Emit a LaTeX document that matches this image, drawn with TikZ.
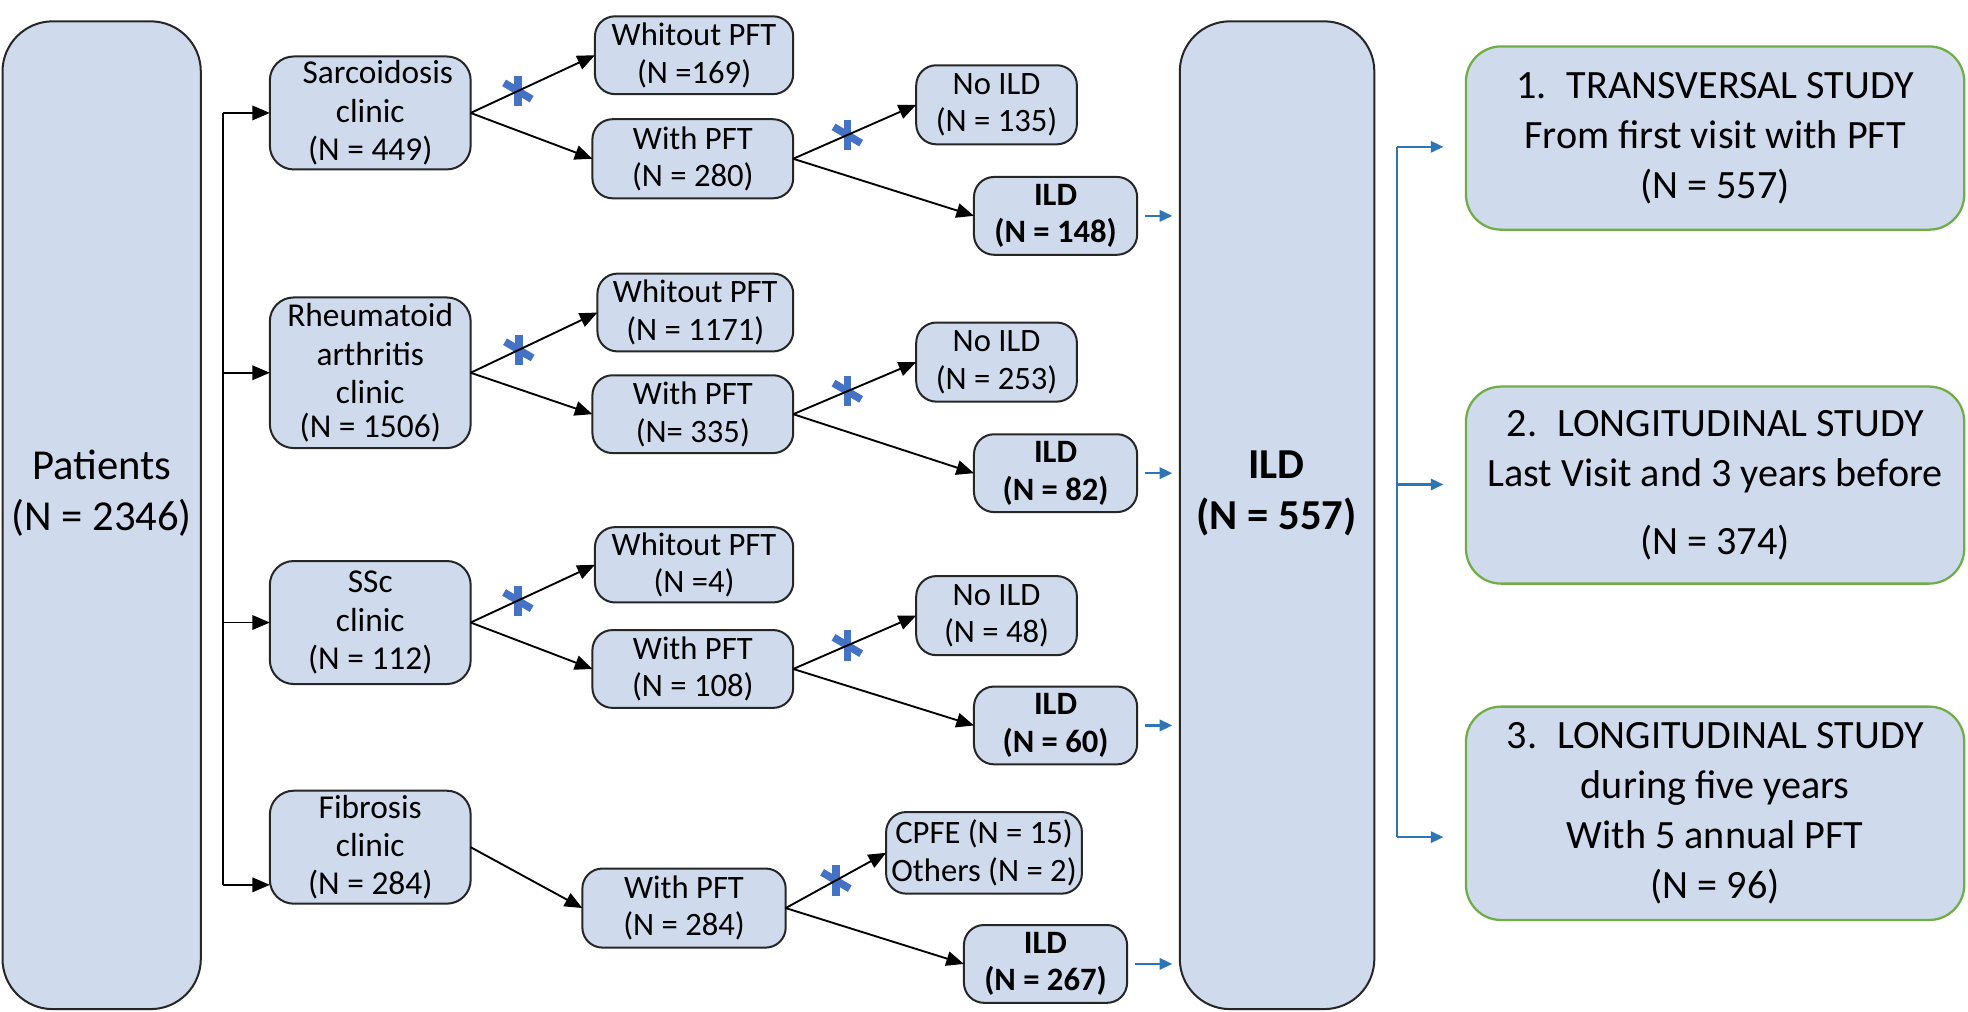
\documentclass[tikz,border=0pt]{standalone}
\usepackage{fontspec}
\setmainfont{Carlito}
\usetikzlibrary{arrows.meta}
\definecolor{boxfill}{RGB}{207,219,236}
\definecolor{bordercol}{RGB}{38,38,38}
\definecolor{greenb}{RGB}{112,173,71}
\definecolor{arrblue}{RGB}{46,117,182}
\definecolor{astblue}{RGB}{68,114,196}
\newcommand\mybox[7][]{\node[#1, minimum width={(#5-#3)*0.5pt}, minimum height={(#6-#4)*0.5pt}] (#2) at ({(#3+#5)/2},{(#4+#6)/2}) {#7};}
\begin{document}
\begin{tikzpicture}[x=0.5pt, y=-0.5pt,
 basebox/.style={draw=bordercol, fill=boxfill, line width=0.8pt, align=center, inner sep=0pt, outer sep=0pt},
 bigbox/.style={basebox, rounded corners=20pt},
 clinicbox/.style={basebox, rounded corners=9.5pt, font=\fontsize{13.3}{15.3}\selectfont},
 smallbox/.style={basebox, rounded corners=8pt, font=\fontsize{13}{15}\selectfont},
 ildbox/.style={smallbox, font=\fontsize{13}{15}\selectfont\bfseries},
 studybox/.style={basebox, draw=greenb, line width=0.9pt, rounded corners=14pt, font=\fontsize{16}{20}\selectfont},
 bigtext/.style={align=center, font=\fontsize{17}{20.5}\selectfont},
 arr/.style={-{Triangle[length=7pt,width=5.8pt]}, line width=0.75pt, black},
 barr/.style={-{Triangle[length=5pt,width=4.5pt]}, line width=0.9pt, arrblue},
 ast/.pic={\draw[astblue, line width=3pt] (0,-12) -- (0,12); \draw[astblue, line width=3pt] (-11,-6.5) -- (11,6.5);}
]
\fill[white] (0,0) rectangle (1568,806);
\useasboundingbox (0,0) rectangle (1568,806);

% big boxes
\mybox[bigbox]{pat}{2}{17}{160}{804}{}
\node[bigtext] (patT) at (81,393) {Patients\\(N = 2346)};
\mybox[bigbox]{ild}{940}{17}{1095}{804}{}
\node[bigtext, font=\fontsize{17}{20.5}\selectfont\bfseries] (ildT) at (1017,393) {ILD\\(N = 557)};

% clinics
\mybox[clinicbox]{sarc}{215}{45}{375}{135}{\hspace*{6pt}Sarcoidosis\\clinic\\(N = 449)}
\mybox[clinicbox]{rheum}{215}{237}{375}{357}{Rheumatoid\\arthritis\\clinic\\[-2pt](N = 1506)}
\mybox[clinicbox]{ssc}{215}{447}{375}{545}{SSc\\clinic\\(N = 112)}
\mybox[clinicbox]{fib}{215}{630}{375}{720}{Fibrosis\\clinic\\(N = 284)}

% with / without
\mybox[smallbox]{wo1}{474}{13}{632}{75}{Whitout PFT\\(N =169)}
\mybox[smallbox]{w1}{472}{95}{632}{158}{With PFT\\(N = 280)}
\mybox[smallbox]{wo2}{476}{218}{632}{280}{Whitout PFT\\(N = 1171)}
\mybox[smallbox]{w2}{472}{299}{632}{361}{With PFT\\(N= 335)}
\mybox[smallbox]{wo3}{474}{420}{632}{480}{Whitout PFT\\(N =4)}
\mybox[smallbox]{w3}{472}{502}{632}{564}{With PFT\\(N = 108)}
\mybox[smallbox]{w4}{464}{692}{626}{755}{With PFT\\(N = 284)}

% no ILD
\mybox[smallbox]{n1}{730}{52}{858}{115}{No ILD\\(N = 135)}
\mybox[smallbox]{n2}{730}{257}{858}{320}{No ILD\\(N = 253)}
\mybox[smallbox]{n3}{730}{459}{858}{522}{No ILD\\(N = 48)}
\mybox[smallbox]{cp}{706}{647}{862}{712}{CPFE (N = 15)\\Others (N = 2)}

% ILD small
\mybox[ildbox]{i1}{776}{141}{906}{203}{ILD\\(N = 148)}
\mybox[ildbox]{i2}{776}{346}{906}{408}{ILD\\(N = 82)}
\mybox[ildbox]{i3}{776}{547}{906}{609}{ILD\\(N = 60)}
\mybox[ildbox]{i4}{768}{737}{898}{799}{ILD\\(N = 267)}

% studies
\mybox[studybox]{s1}{1168}{37}{1565}{183}{1.\hspace{0.5em}TRANSVERSAL STUDY\\From first visit with PFT\\(N = 557)}
\mybox[studybox]{s2}{1168}{308}{1565}{465}{2.\hspace{0.5em}LONGITUDINAL STUDY\\Last Visit and 3 years before\\[7pt](N = 374)}
\mybox[studybox]{s3}{1168}{563}{1565}{733}{3.\hspace{0.5em}LONGITUDINAL STUDY\\during five years\\With 5 annual PFT\\(N = 96)}

% left distribution
\coordinate (L1) at (178,90);
\coordinate (L2) at (178,297);
\coordinate (L3) at (178,496);
\coordinate (L4) at (178,705);
\draw[line width=0.75pt] (L1) -- (L4);
\draw[arr] (L1) -- (L1 -| sarc.west);
\draw[arr] (L2) -- (L2 -| rheum.west);
\draw[arr] (L3) -- (L3 -| ssc.west);
\draw[arr] (L4) -- (L4 -| fib.west);

% asterisk positions
\path (sarc.east) -- (wo1.west) coordinate[pos=0.38] (a1);
\path (rheum.east) -- (wo2.west) coordinate[pos=0.38] (a2);
\path (ssc.east) -- (wo3.west) coordinate[pos=0.38] (a3);
\path (w1.east) -- (n1.west) coordinate[pos=0.44] (b1);
\path (w2.east) -- (n2.west) coordinate[pos=0.44] (b2);
\path (w3.east) -- (n3.west) coordinate[pos=0.44] (b3);
\path (w4.east) -- (cp.west) coordinate[pos=0.5] (b4);
\foreach \p in {a1,a2,a3,b1,b2,b3,b4} {\pic at (\p) {ast};}

% clinic branches
\draw[arr] (sarc.east) -- (wo1.west);
\draw[arr] (sarc.east) -- (w1.west);
\draw[arr] (rheum.east) -- (wo2.west);
\draw[arr] (rheum.east) -- (w2.west);
\draw[arr] (ssc.east) -- (wo3.west);
\draw[arr] (ssc.east) -- (w3.west);
\draw[arr] (fib.east) -- (w4.west);

% with PFT branches
\draw[arr] (w1.east) -- (n1.west);
\draw[arr] (w1.east) -- (i1.west);
\draw[arr] (w2.east) -- (n2.west);
\draw[arr] (w2.east) -- (i2.west);
\draw[arr] (w3.east) -- (n3.west);
\draw[arr] (w3.east) -- (i3.west);
\draw[arr] (w4.east) -- (cp.west);
\draw[arr] (w4.east) -- (i4.west);

% ILD to big ILD
\foreach \i in {i1,i2,i3,i4} {\draw[barr, shorten <=3pt, shorten >=3pt] (\i.east) -- (\i.east -| ild.west);}

% right distribution
\coordinate (R1) at (1113,117);
\coordinate (R2) at (1113,386);
\coordinate (R3) at (1113,667);
\draw[arrblue, line width=0.9pt] (R1) -- (R3);
\draw[barr, shorten >=9pt] (R1) -- (R1 -| s1.west);
\draw[barr, shorten >=9pt] (R2) -- (R2 -| s2.west);
\draw[barr, shorten >=9pt] (R3) -- (R3 -| s3.west);
\end{tikzpicture}
\end{document}
